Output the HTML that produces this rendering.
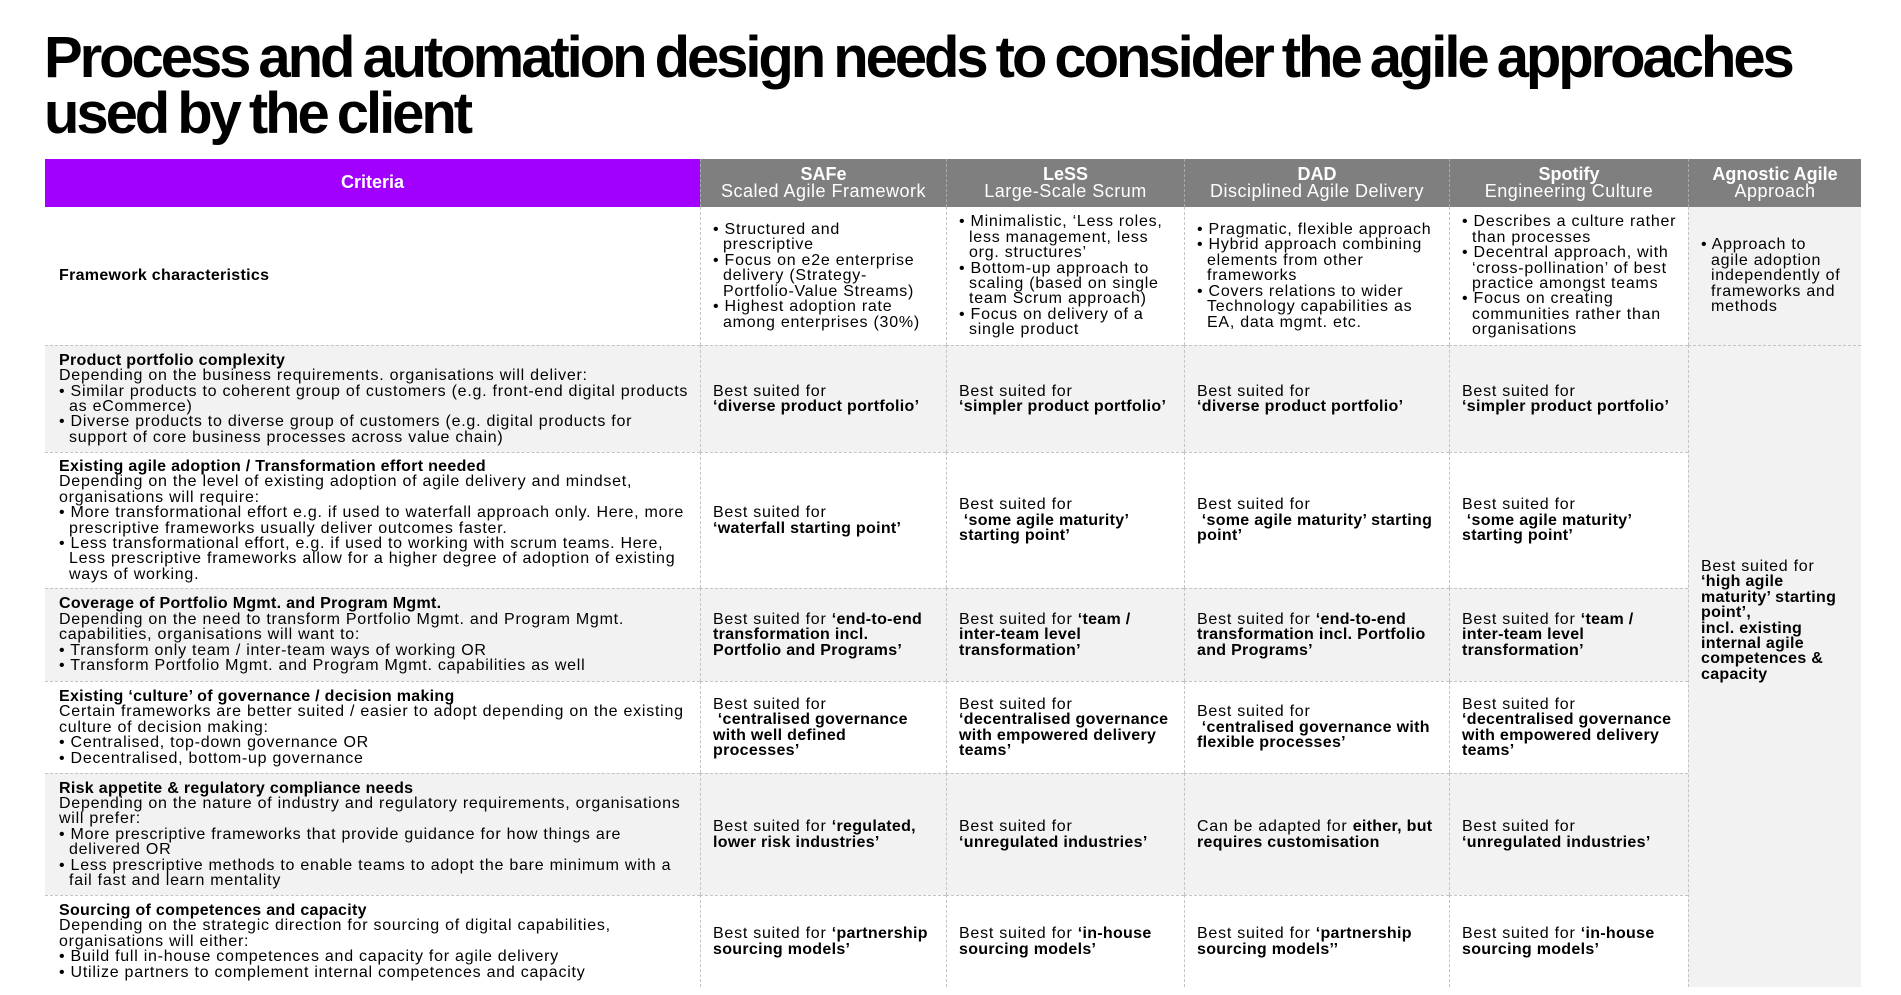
<!DOCTYPE html>
<html><head><meta charset="utf-8">
<style>
*{margin:0;padding:0;box-sizing:border-box}
body{width:1901px;height:995px;background:#fff;position:relative;overflow:hidden;font-family:"Liberation Sans Narrow","Liberation Sans",sans-serif;color:#000}
h1{position:absolute;left:44px;top:30px;font-size:58px;line-height:56px;font-weight:bold;letter-spacing:-3.05px;word-spacing:-3px;font-family:"Liberation Sans Narrow","Liberation Sans",sans-serif}
.c{position:absolute;display:flex;align-items:center;padding:0 12px;font-size:16px;line-height:15.4px;letter-spacing:0.75px;border-left:1px dashed #c4c4c4;border-top:1px dashed #c4c4c4}
.g{background:#f2f2f2}
.h{background:#7f7f7f;color:#fff;justify-content:center;text-align:center;font-size:18px;line-height:17px;letter-spacing:0.5px;border-left:1px dashed #aaa;border-top:none}
.p{background:#a100ff;color:#fff;justify-content:center;font-weight:bold;font-size:18px;letter-spacing:0;border:none}
b{font-weight:bold;letter-spacing:0.3px}
.h b{letter-spacing:0}
.b{padding-left:10px;text-indent:-10px}
.n{white-space:nowrap}
.l{left:45px;width:655px;border-left:none;padding-left:14px}
</style></head><body>
<h1>Process and automation design needs to consider the agile approaches<br>used by the client</h1>

<div class="c p" style="left:45px;top:159px;width:655px;height:48px">Criteria</div>
<div class="c h" style="left:700px;top:159px;width:246px;height:48px"><div><b>SAFe</b><br>Scaled Agile Framework</div></div>
<div class="c h" style="left:946px;top:159px;width:238px;height:48px"><div><b>LeSS</b><br>Large-Scale Scrum</div></div>
<div class="c h" style="left:1184px;top:159px;width:265px;height:48px"><div><b>DAD</b><br>Disciplined Agile Delivery</div></div>
<div class="c h" style="left:1449px;top:159px;width:239px;height:48px"><div><b>Spotify</b><br>Engineering Culture</div></div>
<div class="c h" style="left:1688px;top:159px;width:173px;height:48px"><div><b>Agnostic Agile</b><br>Approach</div></div>
<div style="position:absolute;left:45px;top:207px;width:1816px;border-top:1px dashed #fff"></div>

<div class="c l" style="top:207px;height:138px;border-top:none"><b>Framework characteristics</b></div>
<div class="c" style="left:700px;top:207px;width:246px;height:138px;border-top:none"><div><div class="b">• Structured and prescriptive</div><div class="b">• Focus on e2e enterprise delivery (Strategy-Portfolio-Value Streams)</div><div class="b">• Highest adoption rate among enterprises (30%)</div></div></div>
<div class="c" style="left:946px;top:207px;width:238px;height:138px;border-top:none"><div><div class="b">• Minimalistic, ‘Less roles, less management, less org. structures’</div><div class="b">• Bottom-up approach to scaling (based on single team Scrum approach)</div><div class="b">• Focus on delivery of a single product</div></div></div>
<div class="c" style="left:1184px;top:207px;width:265px;height:138px;border-top:none"><div><div class="b">• Pragmatic, flexible approach</div><div class="b">• Hybrid approach combining elements from other frameworks</div><div class="b">• Covers relations to wider Technology capabilities as EA, data mgmt. etc.</div></div></div>
<div class="c" style="left:1449px;top:207px;width:239px;height:138px;border-top:none"><div><div class="b n">• Describes a culture rather<br>than processes</div><div class="b">• Decentral approach, with ‘cross-pollination’ of best practice amongst teams</div><div class="b">• Focus on creating communities rather than organisations</div></div></div>
<div class="c g" style="left:1688px;top:207px;width:173px;height:138px;border-top:none"><div><div class="b n">• Approach to<br>agile adoption<br>independently of<br>frameworks and<br>methods</div></div></div>

<div class="c l g" style="top:345px;height:107px"><div><b>Product portfolio complexity</b><br>Depending on the business requirements. organisations will deliver:<div class="b n">• Similar products to coherent group of customers (e.g. front-end digital products<br>as eCommerce)</div><div class="b n">• Diverse products to diverse group of customers (e.g. digital products for<br>support of core business processes across value chain)</div></div></div>
<div class="c g" style="left:700px;top:345px;width:246px;height:107px"><div>Best suited for<br><b>‘diverse product portfolio’</b></div></div>
<div class="c g" style="left:946px;top:345px;width:238px;height:107px"><div>Best suited for<br><b>‘simpler product portfolio’</b></div></div>
<div class="c g" style="left:1184px;top:345px;width:265px;height:107px"><div>Best suited for<br><b>‘diverse product portfolio’</b></div></div>
<div class="c g" style="left:1449px;top:345px;width:239px;height:107px"><div>Best suited for<br><b>‘simpler product portfolio’</b></div></div>
<div class="c g" style="left:1688px;top:345px;width:173px;height:642px;align-items:flex-start;padding-top:213px"><div>Best suited for<br><b>‘high agile maturity’ starting point’,<br>incl. existing internal agile competences &amp; capacity</b></div></div>

<div class="c l" style="top:452px;height:136px"><div><b>Existing agile adoption / Transformation effort needed</b><br><span class="n">Depending on the level of existing adoption of agile delivery and mindset,<br>organisations will require:</span><div class="b n">• More transformational effort e.g. if used to waterfall approach only. Here, more<br>prescriptive frameworks usually deliver outcomes faster.</div><div class="b n">• Less transformational effort, e.g. if used to working with scrum teams. Here,<br>Less prescriptive frameworks allow for a higher degree of adoption of existing<br>ways of working.</div></div></div>
<div class="c" style="left:700px;top:452px;width:246px;height:136px"><div>Best suited for<br><b>‘waterfall starting point’</b></div></div>
<div class="c" style="left:946px;top:452px;width:238px;height:136px"><div>Best suited for<br><b>&nbsp;‘some agile maturity’ starting point’</b></div></div>
<div class="c" style="left:1184px;top:452px;width:265px;height:136px"><div>Best suited for<br><b>&nbsp;‘some agile maturity’ starting point’</b></div></div>
<div class="c" style="left:1449px;top:452px;width:239px;height:136px"><div>Best suited for<br><b>&nbsp;‘some agile maturity’ starting point’</b></div></div>

<div class="c l g" style="top:588px;height:93px"><div><b>Coverage of Portfolio Mgmt. and Program Mgmt.</b><br>Depending on the need to transform Portfolio Mgmt. and Program Mgmt. capabilities, organisations will want to:<div class="b">• Transform only team / inter-team ways of working OR</div><div class="b">• Transform Portfolio Mgmt. and Program Mgmt. capabilities as well</div></div></div>
<div class="c g" style="left:700px;top:588px;width:246px;height:93px"><div>Best suited for <b>‘end-to-end transformation incl. Portfolio and Programs’</b></div></div>
<div class="c g" style="left:946px;top:588px;width:238px;height:93px"><div>Best suited for <b>‘team / inter-team level transformation’</b></div></div>
<div class="c g" style="left:1184px;top:588px;width:265px;height:93px"><div>Best suited for <b>‘end-to-end transformation incl. Portfolio and Programs’</b></div></div>
<div class="c g" style="left:1449px;top:588px;width:239px;height:93px"><div>Best suited for <b>‘team / inter-team level transformation’</b></div></div>

<div class="c l" style="top:681px;height:92px"><div><b>Existing ‘culture’ of governance / decision making</b><br>Certain frameworks are better suited / easier to adopt depending on the existing culture of decision making:<div class="b">• Centralised, top-down governance OR</div><div class="b">• Decentralised, bottom-up governance</div></div></div>
<div class="c" style="left:700px;top:681px;width:246px;height:92px"><div>Best suited for<br><b>&nbsp;‘centralised governance with well defined processes’</b></div></div>
<div class="c" style="left:946px;top:681px;width:238px;height:92px"><div>Best suited for<br><b>‘decentralised governance with empowered delivery teams’</b></div></div>
<div class="c" style="left:1184px;top:681px;width:265px;height:92px"><div>Best suited for<br><b>&nbsp;‘centralised governance with flexible processes’</b></div></div>
<div class="c" style="left:1449px;top:681px;width:239px;height:92px"><div>Best suited for<br><b>‘decentralised governance with empowered delivery teams’</b></div></div>

<div class="c l g" style="top:773px;height:122px"><div><b>Risk appetite &amp; regulatory compliance needs</b><br>Depending on the nature of industry and regulatory requirements, organisations will prefer:<div class="b">• More prescriptive frameworks that provide guidance for how things are delivered OR</div><div class="b">• Less prescriptive methods to enable teams to adopt the bare minimum with a fail fast and learn mentality</div></div></div>
<div class="c g" style="left:700px;top:773px;width:246px;height:122px"><div>Best suited for <b>‘regulated, lower risk industries’</b></div></div>
<div class="c g" style="left:946px;top:773px;width:238px;height:122px"><div>Best suited for<br><b>‘unregulated industries’</b></div></div>
<div class="c g" style="left:1184px;top:773px;width:265px;height:122px"><div>Can be adapted for <b>either, but requires customisation</b></div></div>
<div class="c g" style="left:1449px;top:773px;width:239px;height:122px"><div>Best suited for<br><b>‘unregulated industries’</b></div></div>

<div class="c l" style="top:895px;height:92px"><div><b>Sourcing of competences and capacity</b><br>Depending on the strategic direction for sourcing of digital capabilities, organisations will either:<div class="b">• Build full in-house competences and capacity for agile delivery</div><div class="b">• Utilize partners to complement internal competences and capacity</div></div></div>
<div class="c" style="left:700px;top:895px;width:246px;height:92px"><div>Best suited for <b>‘partnership sourcing models’</b></div></div>
<div class="c" style="left:946px;top:895px;width:238px;height:92px"><div>Best suited for <b>‘in-house sourcing models’</b></div></div>
<div class="c" style="left:1184px;top:895px;width:265px;height:92px"><div>Best suited for <b>‘partnership sourcing models’’</b></div></div>
<div class="c" style="left:1449px;top:895px;width:239px;height:92px"><div>Best suited for <b>‘in-house sourcing models’</b></div></div>
</body></html>
